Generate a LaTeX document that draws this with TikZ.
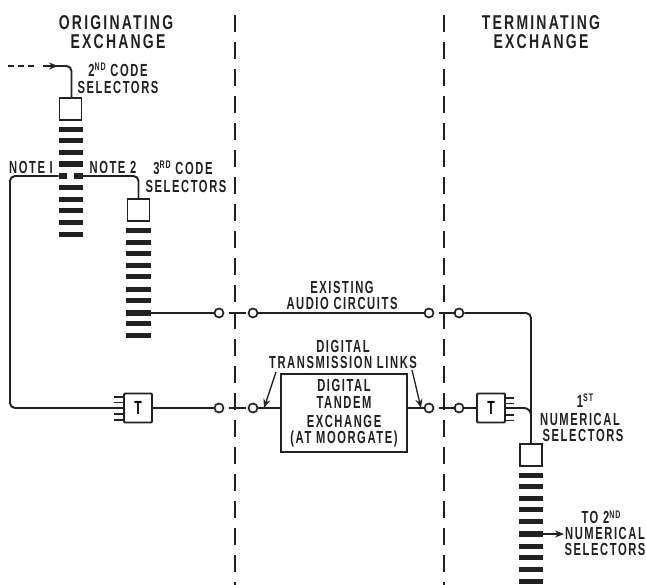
\documentclass[tikz,border=0pt]{standalone}
\usepackage{fontspec}
\usetikzlibrary{arrows.meta}
\newfontfamily\labfont[FakeStretch=0.64,LetterSpace=9]{Liberation Sans Bold}
\newfontfamily\headfont[FakeStretch=0.70,LetterSpace=11]{Liberation Sans Bold}
\definecolor{ink}{gray}{0.13}
\newcommand{\supsc}[1]{\raisebox{0.3em}{\fontsize{11}{11}\selectfont #1}}
\tikzset{
  x=1pt,y=-1pt,
  lab/.style={font=\labfont\fontsize{17.5}{17.5}\selectfont,text=ink,inner sep=0pt,anchor=center,text height=12.5pt,text depth=0pt},
  head/.style={font=\headfont\fontsize{20}{20}\selectfont,text=ink,inner sep=0pt,anchor=center,text height=14pt,text depth=0pt},
  wire/.style={draw=ink,line width=1.9pt,rounded corners=5pt},
  bound/.style={draw=ink,line width=2.2pt,dash pattern=on 17pt off 10pt},
  selbox/.style={draw=ink,line width=1.8pt,fill=white,minimum width=22pt,minimum height=22pt,inner sep=0pt},
  selbar/.style={fill=ink,minimum width=24.5pt,minimum height=5pt,inner sep=0pt},
  selbarthick/.style={fill=ink,minimum width=24.5pt,minimum height=6.5pt,inner sep=0pt},
  halfbar/.style={fill=ink,minimum width=8.5pt,minimum height=5.5pt,inner sep=0pt},
  term/.style={circle,draw=ink,line width=1.7pt,fill=white,minimum size=9pt,inner sep=0pt},
  tbox/.style={draw=ink,line width=1.8pt,fill=white,minimum width=28pt,minimum height=29pt,inner sep=0pt,rounded corners=1pt,font=\labfont\fontsize{19}{19}\selectfont},
  tandem/.style={draw=ink,line width=2.1pt,fill=white,minimum width=126pt,minimum height=78pt,inner sep=0pt},
  arr/.style={-{Stealth[length=9pt,width=7pt]},draw=ink,line width=1.6pt},
}
\begin{document}
\begin{tikzpicture}
\useasboundingbox (0,0) rectangle (646,585);
% exchange boundaries
\coordinate (bl1) at (235,15); \coordinate (bl2) at (235,585);
\coordinate (br1) at (444,15); \coordinate (br2) at (444,585);
\draw[bound] (bl1) -- (bl2);
\draw[bound] (br1) -- (br2);
% headings
\node[head] (h1) at (116,23) {ORIGINATING};
\node[head] (h2) at (118,42) {EXCHANGE};
\node[head] (h3) at (541,23) {TERMINATING};
\node[head] (h4) at (541,42) {EXCHANGE};
% selector columns
\node[selbox] (sa) at (70.5,109) {};
\foreach \i/\y in {1/130,2/141,3/153,6/188,7/200,8/211,9/223,10/235}
  \node[selbar] (a\i) at (71,\y) {};
\node[selbarthick] (a4) at (71,164) {};
\node[halfbar] (a5l) at (63,176) {};
\node[halfbar] (a5r) at (78.5,176) {};
\node[selbox] (sb) at (138.5,210) {};
\foreach \i/\y in {1/231,2/242.5,3/254,4/266,5/277,6/290,7/301,9/324,10/336}
  \node[selbar] (b\i) at (138.5,\y) {};
\node[selbarthick] (b8) at (138.5,313) {};
\node[selbox] (sc) at (531,455) {};
\foreach \i/\y in {1/476,2/487,3/499,4/510,5/522,7/546,8/557,9/569,10/581}
  \node[selbar] (c\i) at (531,\y) {};
\node[selbarthick] (c6) at (531,534) {};
% terminals
\foreach \n/\x/\y in {t1/219/313,t2/253/313,t3/429/313,t4/459/313,t5/219/408,t6/253/408,t7/429/408,t8/459/408}
  \node[term] (\n) at (\x,\y) {};
% boxes
\node[tbox] (tl) at (138,408) {T};
\node[tbox] (tr) at (491,408) {T};
\node[tandem] (dt) at (344,413) {};
% free points
\coordinate (in0) at (8,66);
\coordinate (in1) at (37,66);
\coordinate (in2) at (43,66);
\coordinate (in3) at (58,66);
\coordinate (la1) at (276,372);
\coordinate (la2) at (264,408);
\coordinate (ra1) at (412,370);
\coordinate (ra2) at (421,408);
\coordinate (tn) at (564,534);
% connectors
\draw[draw=ink,line width=1.9pt,dash pattern=on 6pt off 4pt] (in0) -- (in1);
\draw[wire] (in2) -- (71.5,66) -- (71.5,98);
\draw[arr] (in2) -- (in3);
\draw[wire] (a5l.west) -- (10,176) -- (10,408) -- (tl.west);
\draw[wire] (a5r.east) -- (138.5,176) -- (sb.north);
\draw[wire] (b8.east) -- (t1.west);
\draw[wire] (t2.east) -- (t3.west);
\draw[wire] (t4.east) -- (531,313) -- (sc.north);
\draw[wire] (tl.east) -- (t5.west);
\draw[wire] (t6.east) -- (dt.west |- t6);
\draw[wire] (dt.east |- t7) -- (t7.west);
\draw[wire] (t8.east) -- (tr.west);
\draw[wire,rounded corners=7pt] (tr.east |- t8) -- (531,408) -- (531,425);
\draw[arr] (c6.east) -- (tn);
\draw[arr,line width=1.3pt] (la1) -- (la2);
\draw[arr,line width=1.3pt] (ra1) -- (ra2);
% links across the boundaries
\draw[draw=ink,line width=1.7pt] (t1.east) ++(5,0) -- ++(17,0);
\draw[draw=ink,line width=1.7pt] (t3.east) ++(5,0) -- ++(17,0);
\draw[draw=ink,line width=1.7pt] (t5.east) ++(5,0) -- ++(17,0);
\draw[draw=ink,line width=1.7pt] (t7.east) ++(5,0) -- ++(17,0);
% T stubs
\foreach \y in {397,402.5,408,414,420} \draw[draw=ink,line width=1.3pt] (tl.west |- 0,\y) -- ++(-9,0);
\foreach \y in {398,403.5,415,420.5} \draw[draw=ink,line width=1.3pt] (tr.east |- 0,\y) -- ++(8,0);
% labels
\node[lab] (l1) at (118,70) {2\supsc{ND} CODE};
\node[lab] (l2) at (118,87) {SELECTORS};
\node[lab] (l3) at (31,167) {NOTE I};
\node[lab] (l4) at (113,167) {NOTE 2};
\node[lab] (l5) at (183,168) {3\supsc{RD} CODE};
\node[lab] (l6) at (186,186) {SELECTORS};
\node[lab] (l7) at (342,287) {EXISTING};
\node[lab] (l8) at (342,303) {AUDIO CIRCUITS};
\node[lab] (l9) at (343,346) {DIGITAL};
\node[lab] (l10) at (343,362) {TRANSMISSION LINKS};
\node[lab] (l11) at (344,385) {DIGITAL};
\node[lab] (l12) at (344,402) {TANDEM};
\node[lab] (l13) at (344,421) {EXCHANGE};
\node[lab] (l14) at (344,437) {(AT MOORGATE)};
\node[lab] (l15) at (585,401) {1\supsc{ST}};
\node[lab] (l16) at (580,419) {NUMERICAL};
\node[lab] (l17) at (583,435) {SELECTORS};
\node[lab] (l18) at (601,517) {TO 2\supsc{ND}};
\node[lab] (l19) at (605,533) {NUMERICAL};
\node[lab] (l20) at (605,549) {SELECTORS};
\end{tikzpicture}
\end{document}
